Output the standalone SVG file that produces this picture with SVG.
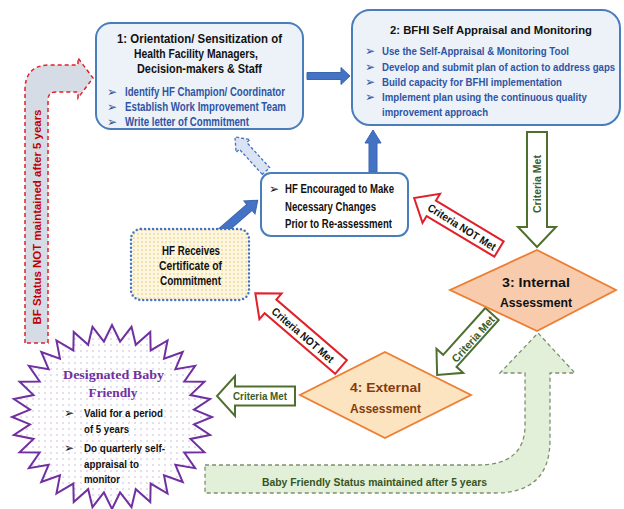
<svg xmlns="http://www.w3.org/2000/svg" xmlns:xlink="http://www.w3.org/1999/xlink" width="624" height="509" viewBox="0 0 624 509">
<style>
text{font-family:"Liberation Sans Narrow","Liberation Sans",Arial,sans-serif;font-weight:bold}
.t{font-size:12.5px;fill:#111}
.b{font-size:12px;fill:#2f55a4}
.blt{font-family:"DejaVu Sans",sans-serif;font-weight:normal;font-size:12px}
.k{font-size:12px;fill:#111}
.crit{font-size:11px;fill:#3b5e27}
.nm{font-size:11px;fill:#111}
.box{fill:#edf1f8;stroke:#4a7ebb;stroke-width:2}
.blue{fill:#4472c4;stroke:#3a65b0;stroke-width:1}
.garrow{fill:#fff;stroke:#4f6f2f;stroke-width:2}
.rarrow{fill:#fff;stroke:#e0202a;stroke-width:2}
</style>
<defs>
<pattern id="pdots" width="6" height="6" patternUnits="userSpaceOnUse"><circle cx="3" cy="3" r="0.7" fill="#b9a2d3"/></pattern>
<pattern id="ydots" width="4" height="4" patternUnits="userSpaceOnUse"><rect width="4" height="4" fill="#fdf7e2"/><circle cx="2" cy="2" r="0.8" fill="#e9c96a"/></pattern>
<polygon id="starShape" vector-effect="non-scaling-stroke" transform="translate(112,417) scale(100,92)" points="1,0 .82,.0807 .9808,.1951 .7847,.238 .9239,.3827 .7232,.3866 .8315,.5556 .6339,.5202 .7071,.7071 .5202,.6339 .5556,.8315 .3866,.7232 .3827,.9239 .238,.7847 .1951,.9808 .0807,.82 0,1 -.0807,.82 -.1951,.9808 -.238,.7847 -.3827,.9239 -.3866,.7232 -.5556,.8315 -.5202,.6339 -.7071,.7071 -.6339,.5202 -.8315,.5556 -.7232,.3866 -.9239,.3827 -.7847,.238 -.9808,.1951 -.82,.0807 -1,0 -.82,-.0807 -.9808,-.1951 -.7847,-.238 -.9239,-.3827 -.7232,-.3866 -.8315,-.5556 -.6339,-.5202 -.7071,-.7071 -.5202,-.6339 -.5556,-.8315 -.3866,-.7232 -.3827,-.9239 -.238,-.7847 -.1951,-.9808 -.0807,-.82 0,-1 .0807,-.82 .1951,-.9808 .238,-.7847 .3827,-.9239 .3866,-.7232 .5556,-.8315 .5202,-.6339 .7071,-.7071 .6339,-.5202 .8315,-.5556 .7232,-.3866 .9239,-.3827 .7847,-.238 .9808,-.1951 .82,-.0807"/>
<clipPath id="starClip"><use xlink:href="#starShape"/></clipPath>
</defs>

<g id="connectors">
  <path d="M25,343 L25,90 Q25,65 50,65 L78,65 L78,58 L93,78 L78,98 L78,92 L56,92 Q48,92 48,100 L48,343 Z" fill="#d6dce5" stroke="#e0202a" stroke-width="1.5" stroke-dasharray="4,3"/>
  <text transform="translate(41,217) rotate(-90)" text-anchor="middle" font-size="11" fill="#c00000" textLength="215" lengthAdjust="spacingAndGlyphs">BF Status NOT maintained after 5 years</text>

  <path d="M205,465 L478,465 Q525,465 525,425 L525,373 L500,373 L538,333 L575,373 L550,373 L550,440 Q550,493 495,493 L205,493 Z" fill="#e2efd9" stroke="#7f8f6f" stroke-width="1.3" stroke-dasharray="4,3"/>
  <text x="374.5" y="486" text-anchor="middle" font-size="11.5" fill="#375623" textLength="225" lengthAdjust="spacingAndGlyphs">Baby Friendly Status maintained after 5 years</text>

  <polygon class="blue" points="307,72.5 341,72.5 341,67.5 350,76 341,84.5 341,79.5 307,79.5"/>
  <polygon class="blue" points="369,172 369,143 365,143 373,130 381,143 377,143 377,172"/>
  <polygon class="blue" transform="translate(220,233) rotate(-41)" points="0,-4 39,-4 39,-8.5 50,0 39,8.5 39,4 0,4"/>
  <polygon transform="translate(266,171) rotate(227.6)" points="0,-5 34,-5 34,-9.5 46,0 34,9.5 34,5 0,5" fill="#dae3f3" stroke="#4472c4" stroke-width="1.3" stroke-dasharray="3,2"/>

  <polygon class="garrow" points="527,132 547,132 547,227 556,227 537,247 518,227 527,227"/>
  <text transform="translate(541,184) rotate(-90)" text-anchor="middle" class="crit" textLength="58" lengthAdjust="spacingAndGlyphs">Criteria Met</text>

  <polygon class="rarrow" transform="translate(499,249) rotate(211)" points="0,-9 79,-9 79,-17 99,0 79,17 79,9 0,9"/>
  <text transform="translate(462,227) rotate(32)" text-anchor="middle" class="nm" dy="4" textLength="78" lengthAdjust="spacingAndGlyphs">Criteria NOT Met</text>

  <polygon class="garrow" transform="translate(492,314) rotate(132)" points="0,-9 63,-9 63,-18 82,0 63,18 63,9 0,9"/>
  <text transform="translate(473,339) rotate(-48)" text-anchor="middle" class="crit" dy="4" textLength="58" lengthAdjust="spacingAndGlyphs">Criteria Met</text>

  <polygon class="rarrow" transform="translate(341,367) rotate(220.7)" points="0,-9 93,-9 93,-17 113,0 93,17 93,9 0,9"/>
  <text transform="translate(303,335) rotate(40.7)" text-anchor="middle" class="nm" dy="4" textLength="78" lengthAdjust="spacingAndGlyphs">Criteria NOT Met</text>

  <polygon class="garrow" points="295,386.5 295,405.5 235,405.5 235,416 217,396 235,376 235,386.5"/>
  <text x="260" y="400" text-anchor="middle" class="crit" textLength="54" lengthAdjust="spacingAndGlyphs">Criteria Met</text>
</g>

<g id="node1">
  <rect class="box" x="96" y="23" width="207" height="106" rx="15"/>
  <text class="t" x="199.5" y="43" text-anchor="middle" textLength="165" lengthAdjust="spacingAndGlyphs">1:  Orientation/ Sensitization of</text>
  <text class="t" x="196" y="58" text-anchor="middle" textLength="124" lengthAdjust="spacingAndGlyphs">Health Facility Managers,</text>
  <text class="t" x="199.5" y="73" text-anchor="middle" textLength="125" lengthAdjust="spacingAndGlyphs">Decision-makers &amp; Staff</text>
  <text class="blt" x="107" y="96" fill="#2f55a4">➢</text>
  <text class="blt" x="107" y="111" fill="#2f55a4">➢</text>
  <text class="blt" x="107" y="126" fill="#2f55a4">➢</text>
  <text class="b" x="125" y="96" textLength="160" lengthAdjust="spacingAndGlyphs">Identify HF Champion/ Coordinator</text>
  <text class="b" x="125" y="111" textLength="161" lengthAdjust="spacingAndGlyphs">Establish Work Improvement Team</text>
  <text class="b" x="125" y="126" textLength="124" lengthAdjust="spacingAndGlyphs">Write letter of Commitment</text>
</g>

<g id="node2">
  <rect class="box" x="352" y="10" width="268" height="115" rx="18"/>
  <text x="491" y="34" text-anchor="middle" font-size="11.5" fill="#111" textLength="202" lengthAdjust="spacingAndGlyphs">2:  BFHI Self Appraisal and Monitoring</text>
  <text class="blt" x="365" y="55" fill="#2f55a4">➢</text>
  <text class="blt" x="365" y="71" fill="#2f55a4">➢</text>
  <text class="blt" x="365" y="86" fill="#2f55a4">➢</text>
  <text class="blt" x="365" y="101" fill="#2f55a4">➢</text>
  <text class="b" style="font-size:11.5px" x="382" y="55" textLength="187" lengthAdjust="spacingAndGlyphs">Use the Self-Appraisal &amp; Monitoring Tool</text>
  <text class="b" style="font-size:11.5px" transform="translate(382,71) scale(0.838,1)">Develop and submit plan of action to address gaps</text>
  <text class="b" style="font-size:11.5px" x="382" y="86" textLength="180" lengthAdjust="spacingAndGlyphs">Build capacity for BFHI implementation</text>
  <text class="b" style="font-size:11.5px" transform="translate(382,101) scale(0.84,1)">Implement plan using the continuous quality</text>
  <text class="b" style="font-size:11.5px" x="382" y="116" textLength="106" lengthAdjust="spacingAndGlyphs">improvement approach</text>
</g>

<g id="node-encouraged">
  <rect x="261" y="173" width="147" height="63" rx="10" fill="#fff" stroke="#4a7ebb" stroke-width="2"/>
  <text class="blt" x="269" y="193" fill="#111">➢</text>
  <text class="k" x="285" y="193" textLength="109" lengthAdjust="spacingAndGlyphs">HF Encouraged to Make</text>
  <text class="k" x="285" y="211" textLength="91" lengthAdjust="spacingAndGlyphs">Necessary Changes</text>
  <text class="k" x="285" y="228" textLength="107" lengthAdjust="spacingAndGlyphs">Prior to Re-assessment</text>
</g>

<g id="node-certificate">
  <rect x="131" y="229" width="118" height="71" rx="10" fill="url(#ydots)" stroke="#4472c4" stroke-width="2.5" stroke-dasharray="0,4" stroke-linecap="round"/>
  <text class="k" x="191" y="255" text-anchor="middle" textLength="58" lengthAdjust="spacingAndGlyphs">HF Receives</text>
  <text class="k" x="190.5" y="270" text-anchor="middle" textLength="63" lengthAdjust="spacingAndGlyphs">Certificate of</text>
  <text class="k" x="190.5" y="285" text-anchor="middle" textLength="61" lengthAdjust="spacingAndGlyphs">Commitment</text>
</g>

<g id="node3">
  <polygon points="537,250 616,290 537,331 450,290" fill="#f8cbad" stroke="#ed7d31" stroke-width="1.8"/>
  <text class="k" x="536" y="287" text-anchor="middle" textLength="68" lengthAdjust="spacingAndGlyphs">3:  Internal</text>
  <text class="k" x="536" y="307" text-anchor="middle" textLength="72" lengthAdjust="spacingAndGlyphs">Assessment</text>
</g>

<g id="node4">
  <polygon points="385,352 471,395 385,438 300,395" fill="#fce4c1" stroke="#ed7d31" stroke-width="1.8"/>
  <text class="k" x="385.5" y="392" text-anchor="middle" style="fill:#843c0c" textLength="71" lengthAdjust="spacingAndGlyphs">4:  External</text>
  <text class="k" x="385.5" y="413" text-anchor="middle" style="fill:#843c0c" textLength="71" lengthAdjust="spacingAndGlyphs">Assessment</text>
</g>

<g id="node-star">
  <use xlink:href="#starShape" fill="#fff"/>
  <rect x="10" y="322" width="206" height="190" fill="url(#pdots)" clip-path="url(#starClip)"/>
  <use xlink:href="#starShape" fill="none" stroke="#7030a0" stroke-width="2"/>
  <text x="113.5" y="379" text-anchor="middle" style="font-family:'Liberation Serif',serif;font-size:13px;fill:#7030a0" textLength="101" lengthAdjust="spacingAndGlyphs">Designated Baby</text>
  <text x="113" y="397" text-anchor="middle" style="font-family:'Liberation Serif',serif;font-size:13px;fill:#7030a0" textLength="49" lengthAdjust="spacingAndGlyphs">Friendly</text>
  <text class="blt" x="64" y="417" fill="#111">➢</text>
  <text class="blt" x="64" y="452" fill="#111">➢</text>
  <g style="font-size:11.5px;fill:#111">
  <text x="84" y="417" textLength="79" lengthAdjust="spacingAndGlyphs">Valid for a period</text>
  <text x="84" y="433" textLength="45" lengthAdjust="spacingAndGlyphs">of 5 years</text>
  <text x="84" y="452" textLength="81" lengthAdjust="spacingAndGlyphs">Do quarterly self-</text>
  <text x="84" y="468" textLength="55" lengthAdjust="spacingAndGlyphs">appraisal to</text>
  <text x="84" y="483" textLength="36" lengthAdjust="spacingAndGlyphs">monitor</text>
  </g>
</g>
</svg>
